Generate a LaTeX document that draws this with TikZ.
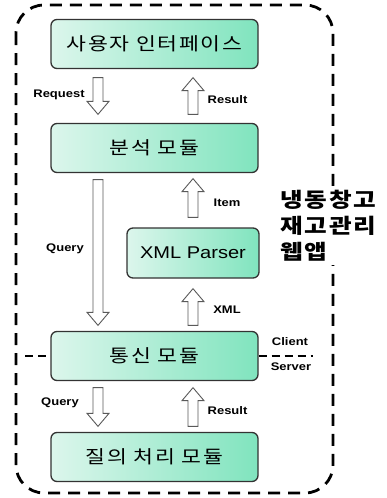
\documentclass[tikz,border=0pt]{standalone}
\usepackage{fontspec}
\setmainfont{Liberation Sans}[FakeStretch=1.18]
\newfontfamily\kr{Noto Sans CJK KR}[FakeStretch=1.2,LetterSpace=9]
\newfontfamily\krtitle{Noto Sans CJK KR}[FakeStretch=1.2,LetterSpace=9]
\usetikzlibrary{positioning}
\usetikzlibrary{calc}

\definecolor{mintlight}{RGB}{220,246,236}
\definecolor{mintdark}{RGB}{128,228,190}

\tikzset{
 box/.style={draw=black!80,line width=1.3pt,rounded corners=6pt,left color=mintlight,right color=mintdark,
  minimum width=207pt,minimum height=49pt,font=\kr\fontsize{18}{18}\selectfont},
 lbl/.style={font=\bfseries\fontsize{11}{11}\selectfont,inner sep=1pt},
 frame/.style={line width=2.8pt,dash pattern=on 12pt off 8pt,rounded corners=28pt},
 sep/.style={line width=2.2pt,dash pattern=on 8pt off 5pt},
 blk/.style={draw=black!65,fill=white,line width=0.9pt}
}
% hollow block arrow from tail #1 to tip #2 (vertical)
\newcommand\blkarrow[2]{%
 \draw[blk] let \p1=(#1),\p2=(#2),\n1={sign(\y2-\y1)} in
  (\x1-5pt,\y1) -- (\x1-5pt,\y2-\n1*13pt) -- (\x1-11pt,\y2-\n1*13pt) -- (\x1,\y2)
  -- (\x1+11pt,\y2-\n1*13pt) -- (\x1+5pt,\y2-\n1*13pt) -- (\x1+5pt,\y1) -- cycle;}

\begin{document}
\begin{tikzpicture}[x=1pt,y=-1pt]
 \useasboundingbox (0,0) rectangle (387,498);
 % outer frame
 \draw[frame] (16,5) rectangle (333,493);

 % modules
 \node[box] (ui) at (154.5,44) {사용자 인터페이스};
 \node[box] (an) at (154.5,148) {분석 모듈};
 \node[box,minimum width=132pt,minimum height=50pt,font=\fontsize{17}{17}\selectfont] (xml) at (193,253) {XML Parser};
 \node[box] (comm) at (154.5,356) {통신 모듈};
 \node[box] (qp) at (154.5,457) {질의 처리 모듈};

 % client / server line
 \coordinate (sepL) at (25,356);
 \coordinate (sepR) at (313,356);
 \draw[sep] (sepL) -- (comm.west);
 \draw[sep] (comm.east) -- (sepR);
 \node[lbl] (client) at (290,342) {Client};
 \node[lbl] (server) at (291,367) {Server};

 % block arrows
 \coordinate (reqA) at ($(ui.south)+(-56.5pt,-8.5pt)$);
 \coordinate (reqB) at ($(an.north)+(-56.5pt,8.5pt)$);
 \coordinate (resA) at ($(an.north)+(38.5pt,8.5pt)$);
 \coordinate (resB) at ($(ui.south)+(38.5pt,-8.5pt)$);
 \coordinate (qryA) at ($(an.south)+(-56.5pt,-6.5pt)$);
 \coordinate (qryB) at ($(comm.north)+(-56.5pt,5.5pt)$);
 \coordinate (itmA) at ($(xml.north)+(0,10pt)$);
 \coordinate (itmB) at ($(an.south)+(38.5pt,-5.5pt)$);
 \coordinate (xmlA) at ($(comm.north)+(38.5pt,5.5pt)$);
 \coordinate (xmlB) at ($(xml.south)+(0,-10pt)$);
 \coordinate (qA) at ($(comm.south)+(-56.5pt,-6.5pt)$);
 \coordinate (qB) at ($(qp.north)+(-56.5pt,5.5pt)$);
 \coordinate (rA) at ($(qp.north)+(38.5pt,5.5pt)$);
 \coordinate (rB) at ($(comm.south)+(38.5pt,-6.5pt)$);
 \blkarrow{reqA}{reqB}
 \blkarrow{resA}{resB}
 \blkarrow{qryA}{qryB}
 \blkarrow{itmA}{itmB}
 \blkarrow{xmlA}{xmlB}
 \blkarrow{qA}{qB}
 \blkarrow{rA}{rB}

 % arrow labels
 \node[lbl] (reqL) at (59,95) {Request};
 \node[lbl] (resL) at (227.5,100) {Result};
 \node[lbl] (qryL) at (65,249) {Query};
 \node[lbl] (itmL) at (227,203) {Item};
 \node[lbl] (xmlL) at (227,310) {XML};
 \node[lbl] (qL) at (60,403) {Query};
 \node[lbl] (rL) at (227.5,411) {Result};

 % title
 \node[fill=white,anchor=west,align=left,inner sep=3pt,font=\krtitle\bfseries\fontsize{20.5}{26}\selectfont] (title) at (277,226) {냉동창고\\재고관리\\웹앱};
\end{tikzpicture}
\end{document}
